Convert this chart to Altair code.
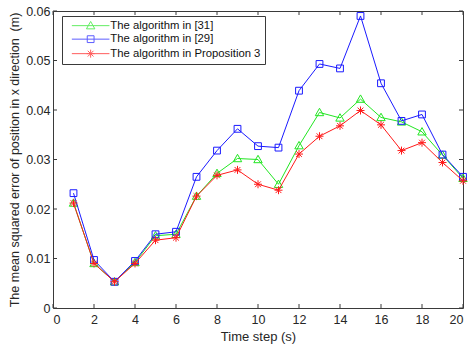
import altair as alt
import pandas as pd

time_steps = list(range(1, 21))
alg31 = [0.0212, 0.0090, 0.0053, 0.0092, 0.0146, 0.0149, 0.0226, 0.0272, 0.0302, 0.0300,
         0.0250, 0.0328, 0.0395, 0.0384, 0.0422, 0.0385, 0.0376, 0.0356, 0.0309, 0.0262]
alg29 = [0.0232, 0.0097, 0.0053, 0.0095, 0.0149, 0.0154, 0.0265, 0.0318, 0.0362, 0.0327,
         0.0324, 0.0439, 0.0493, 0.0484, 0.0590, 0.0454, 0.0378, 0.0391, 0.0310, 0.0265]
prop3 = [0.0212, 0.0090, 0.0053, 0.0090, 0.0137, 0.0142, 0.0226, 0.0268, 0.0279, 0.0250,
         0.0238, 0.0311, 0.0347, 0.0368, 0.0399, 0.0370, 0.0318, 0.0334, 0.0294, 0.0257]

series_names = ["The algorithm in [31]", "The algorithm in [29]", "The algorithm in Proposition 3"]
series_values = [alg31, alg29, prop3]
series_colors = ["#22e622", "#1a1aff", "#ff1a1a"]

x_ticks = [0, 2, 4, 6, 8, 10, 12, 14, 16, 18, 20]
y_ticks = [0, 0.01, 0.02, 0.03, 0.04, 0.05, 0.06]

W, H = 410, 297
FRAME = "#3a3a3a"
FONT = "Liberation Sans"

# marker paths (unit coordinates)
TRI = "M0,-1.05L1.05,0.8L-1.05,0.8Z"
SQR = "M-0.85,-0.85L0.85,-0.85L0.85,0.85L-0.85,0.85Z"
AST = "M-1,0L1,0M0,-1L0,1M-0.72,-0.72L0.72,0.72M-0.72,0.72L0.72,-0.72"
marker_paths = [TRI, SQR, AST]
LINE = "M-4.7,0L4.7,0"
legend_paths = [LINE + TRI, LINE + SQR, LINE + AST]

rows = []
for name, vals in zip(series_names, series_values):
    for t, v in zip(time_steps, vals):
        rows.append({"t": t, "value": v, "series": name})
df = pd.DataFrame(rows)

xs = alt.Scale(domain=[0, 20], nice=False)
ys = alt.Scale(domain=[0, 0.06], nice=False)

x_axis = alt.Axis(values=x_ticks, ticks=False, domain=False, grid=False,
                  labelFont=FONT, labelFontSize=12.5, labelColor="#262626", labelPadding=5,
                  titleFont=FONT, titleFontSize=13, titleFontWeight="normal", titleColor="#262626",
                  titlePadding=5)
y_axis = alt.Axis(values=y_ticks, ticks=False, domain=False, grid=False,
                  labelExpr="datum.value == 0 ? '0' : format(datum.value, '.2f')",
                  labelFont=FONT, labelFontSize=12.5, labelColor="#262626", labelPadding=3,
                  titleFont=FONT, titleFontSize=12.5, titleFontWeight="normal", titleColor="#262626",
                  titlePadding=4)
X_TITLE = "Time step (s)"
Y_TITLE = "The mean squared error of position in x direction\u00a0 (m)"


def xenc(field):
    return alt.X(field, type="quantitative", scale=xs, axis=x_axis, title=X_TITLE)


def yenc(field):
    return alt.Y(field, type="quantitative", scale=ys, axis=y_axis, title=Y_TITLE)


layers = []
for name, color, path in zip(series_names, series_colors, marker_paths):
    sub = alt.Chart(df).transform_filter(alt.datum.series == name)
    layers.append(sub.mark_line(color=color, strokeWidth=1).encode(x=xenc("t"), y=yenc("value")))
    layers.append(sub.mark_point(shape=path, filled=False, stroke=color, strokeWidth=1, size=64,
                                 opacity=1).encode(x=xenc("t"), y=yenc("value")))

# inward ticks
xt = pd.DataFrame({"v": x_ticks})
yt = pd.DataFrame({"v": y_ticks})
TL = 4
layers.append(alt.Chart(xt).mark_rule(color=FRAME, strokeWidth=1).encode(
    x=xenc("v"), y=alt.value(H), y2=alt.value(H - TL)))
layers.append(alt.Chart(xt).mark_rule(color=FRAME, strokeWidth=1).encode(
    x=xenc("v"), y=alt.value(0), y2=alt.value(TL)))
layers.append(alt.Chart(yt).mark_rule(color=FRAME, strokeWidth=1).encode(
    y=yenc("v"), x=alt.value(0), x2=alt.value(TL)))
layers.append(alt.Chart(yt).mark_rule(color=FRAME, strokeWidth=1).encode(
    y=yenc("v"), x=alt.value(W - TL), x2=alt.value(W)))

# legend layer (no visible marks, only the legend)
leg = alt.Legend(orient="none", legendX=9, legendY=5, title=None, fillColor="white",
                 strokeColor=FRAME, padding=4, symbolSize=64, symbolStrokeWidth=1,
                 symbolOffset=19, labelOffset=14, rowPadding=1.5, labelFont=FONT,
                 labelFontSize=11.3, labelColor="#111", labelLimit=0, cornerRadius=0)
legend_layer = alt.Chart(df).transform_filter("false").mark_point(filled=False, strokeWidth=1).encode(
    x=xenc("t"), y=yenc("value"),
    color=alt.Color("series:N", scale=alt.Scale(domain=series_names, range=series_colors), legend=leg),
    shape=alt.Shape("series:N", scale=alt.Scale(domain=series_names, range=legend_paths), legend=leg),
)
layers.append(legend_layer)

chart = alt.layer(*layers).properties(
    width=W, height=H,
    autosize=alt.AutoSizeParams(type="none"),
    padding={"left": 53, "top": 11, "right": 11, "bottom": 41},
    background="white",
).configure_view(stroke=FRAME, strokeWidth=1)

chart.save("out.html", embed_options={"renderer": "svg", "actions": False})
